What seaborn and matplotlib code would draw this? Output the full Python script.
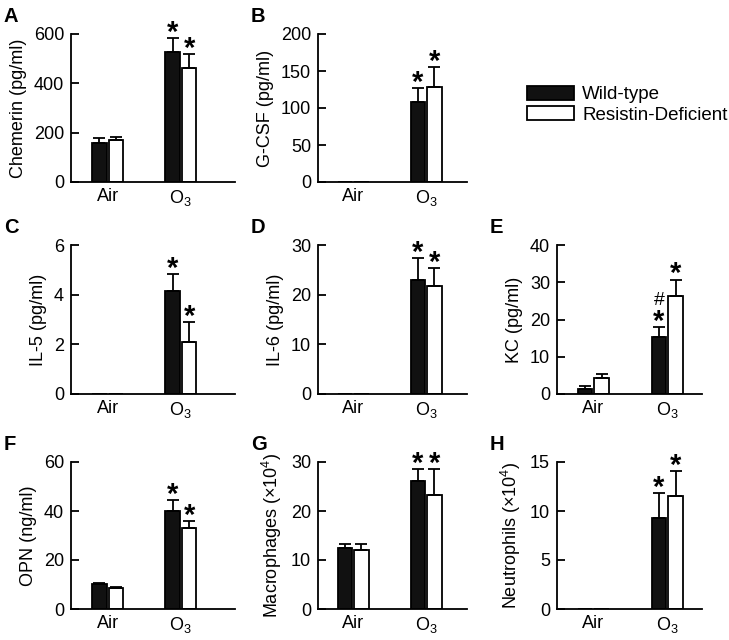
import pandas as pd
import seaborn as sns
import matplotlib.pyplot as plt
from matplotlib.patches import Patch

# exposures and genotypes
exposures = ['Air', 'O3']
exposure_labels = ['Air', 'O$_3$']
genotypes = ['Wild-type', 'Resistin-Deficient']

# mean values, rows = genotype (WT, RD), cols = exposure (Air, O3)
chemerin = [[159, 528], [170, 462]]
chemerin_sem = [[19, 54], [14, 55]]
gcsf = [[0, 108], [0, 129]]
gcsf_sem = [[0, 19], [0, 26]]
il5 = [[0, 4.16], [0, 2.09]]
il5_sem = [[0, 0.67], [0, 0.82]]
il6 = [[0, 22.9], [0, 21.8]]
il6_sem = [[0, 4.4], [0, 3.5]]
kc = [[1.25, 15.4], [4.2, 26.4]]
kc_sem = [[0.9, 2.6], [1.3, 4.3]]
opn = [[10.1, 39.9], [8.6, 33.0]]
opn_sem = [[0.4, 4.7], [0.5, 2.8]]
macrophages = [[12.5, 26.1], [12.0, 23.3]]
macrophages_sem = [[0.7, 2.5], [1.2, 5.3]]
neutrophils = [[0, 9.3], [0, 11.5]]
neutrophils_sem = [[0, 2.5], [0, 2.6]]

# significance marks above O3 bars
stars = [['', '*'], ['', '*']]
kc_marks = [['', '*#'], ['', '*']]

sns.set_style('ticks')
plt.rcParams['font.family'] = ['Liberation Sans', 'DejaVu Sans']
plt.rcParams['mathtext.fontset'] = 'custom'
plt.rcParams['mathtext.rm'] = 'Liberation Sans'
plt.rcParams['text.color'] = 'black'
plt.rcParams['axes.labelcolor'] = 'black'
plt.rcParams['xtick.color'] = 'black'
plt.rcParams['ytick.color'] = 'black'
plt.rcParams['axes.edgecolor'] = 'black'

fig = plt.figure(figsize=(7.29, 6.4), dpi=100)
W, H = 729, 640

# column x extents (px) and xlims, row y extents (px)
cols = [(71, 235, (-0.5, 1.74)), (318, 467, (-0.48, 1.56)), (557, 702, (-0.49, 1.47))]
rows = [(34, 182), (245, 394), (462, 609)]

panels = [
    ('A', 0, 0, chemerin, chemerin_sem, stars, 'Chemerin (pg/ml)', [0, 200, 400, 600]),
    ('B', 0, 1, gcsf, gcsf_sem, stars, 'G-CSF (pg/ml)', [0, 50, 100, 150, 200]),
    ('C', 1, 0, il5, il5_sem, stars, 'IL-5 (pg/ml)', [0, 2, 4, 6]),
    ('D', 1, 1, il6, il6_sem, stars, 'IL-6 (pg/ml)', [0, 10, 20, 30]),
    ('E', 1, 2, kc, kc_sem, kc_marks, 'KC (pg/ml)', [0, 10, 20, 30, 40]),
    ('F', 2, 0, opn, opn_sem, stars, 'OPN (ng/ml)', [0, 20, 40, 60]),
    ('G', 2, 1, macrophages, macrophages_sem, stars, 'Macrophages (×10$^4$)', [0, 10, 20, 30]),
    ('H', 2, 2, neutrophils, neutrophils_sem, stars, 'Neutrophils (×10$^4$)', [0, 5, 10, 15]),
]

for letter, r, c, means, sems, marks, ylabel, yticks in panels:
    x0, x1, xlim = cols[c]
    y0, y1 = rows[r]
    ax = fig.add_axes([x0 / W, 1 - y1 / H, (x1 - x0) / W, (y1 - y0) / H])

    df = pd.DataFrame({
        'exposure': exposures * 2,
        'genotype': [genotypes[0]] * 2 + [genotypes[1]] * 2,
        'value': means[0] + means[1],
    })
    sns.barplot(data=df, x='exposure', y='value', hue='genotype', order=exposures,
                hue_order=genotypes, palette=['#111111', 'white'], edgecolor='black',
                linewidth=1.3, width=0.45, gap=0.12, errorbar=None, legend=False, ax=ax)

    bar_groups = list(ax.containers)
    for g, cont in enumerate(bar_groups):
        for i, bar in enumerate(cont):
            m = means[g][i]
            if m == 0:
                continue
            xc = bar.get_x() + bar.get_width() / 2
            top = m + sems[g][i]
            ax.errorbar(xc, m, yerr=[[0], [sems[g][i]]], fmt='none', ecolor='black',
                        elinewidth=1.3, capsize=4, capthick=1.3)
            mk = marks[g][i]
            if '*' in mk:
                ax.annotate('*', (xc, top), xytext=(0, -2), textcoords='offset points',
                            ha='center', va='baseline', fontsize=21, fontweight='bold')
            if '#' in mk:
                ax.annotate('#', (xc, top), xytext=(0, 15.5), textcoords='offset points',
                            ha='center', va='baseline', fontsize=14)

    ax.set_xlim(*xlim)
    ax.set_ylim(0, yticks[-1])
    ax.set_yticks(yticks)
    ax.set_xticks([0, 1])
    ax.set_xticklabels(exposure_labels)
    ax.set_xlabel('')
    ax.set_ylabel(ylabel, fontsize=13, labelpad=5)
    ax.tick_params(axis='y', direction='in', length=5.5, width=1.3, pad=5, labelsize=13)
    ax.tick_params(axis='x', length=0, pad=4, labelsize=13)
    sns.despine(ax=ax)
    for s in ['left', 'bottom']:
        ax.spines[s].set_linewidth(1.3)

    fig.text((x0 - 67) / W, 1 - (y0 - 27) / H, letter, fontsize=14.5, fontweight='bold',
             ha='left', va='top')

handles = [Patch(facecolor='#111111', edgecolor='black', linewidth=1.3),
           Patch(facecolor='white', edgecolor='black', linewidth=1.3)]
fig.legend(handles, genotypes, loc='upper left', bbox_to_anchor=(527 / W, 1 - 86 / H),
           frameon=False, fontsize=13.5, handlelength=2.5, handleheight=0.75,
           handletextpad=0.45, labelspacing=0.15, borderpad=0, borderaxespad=0)

fig.savefig('out.png', dpi=100)
